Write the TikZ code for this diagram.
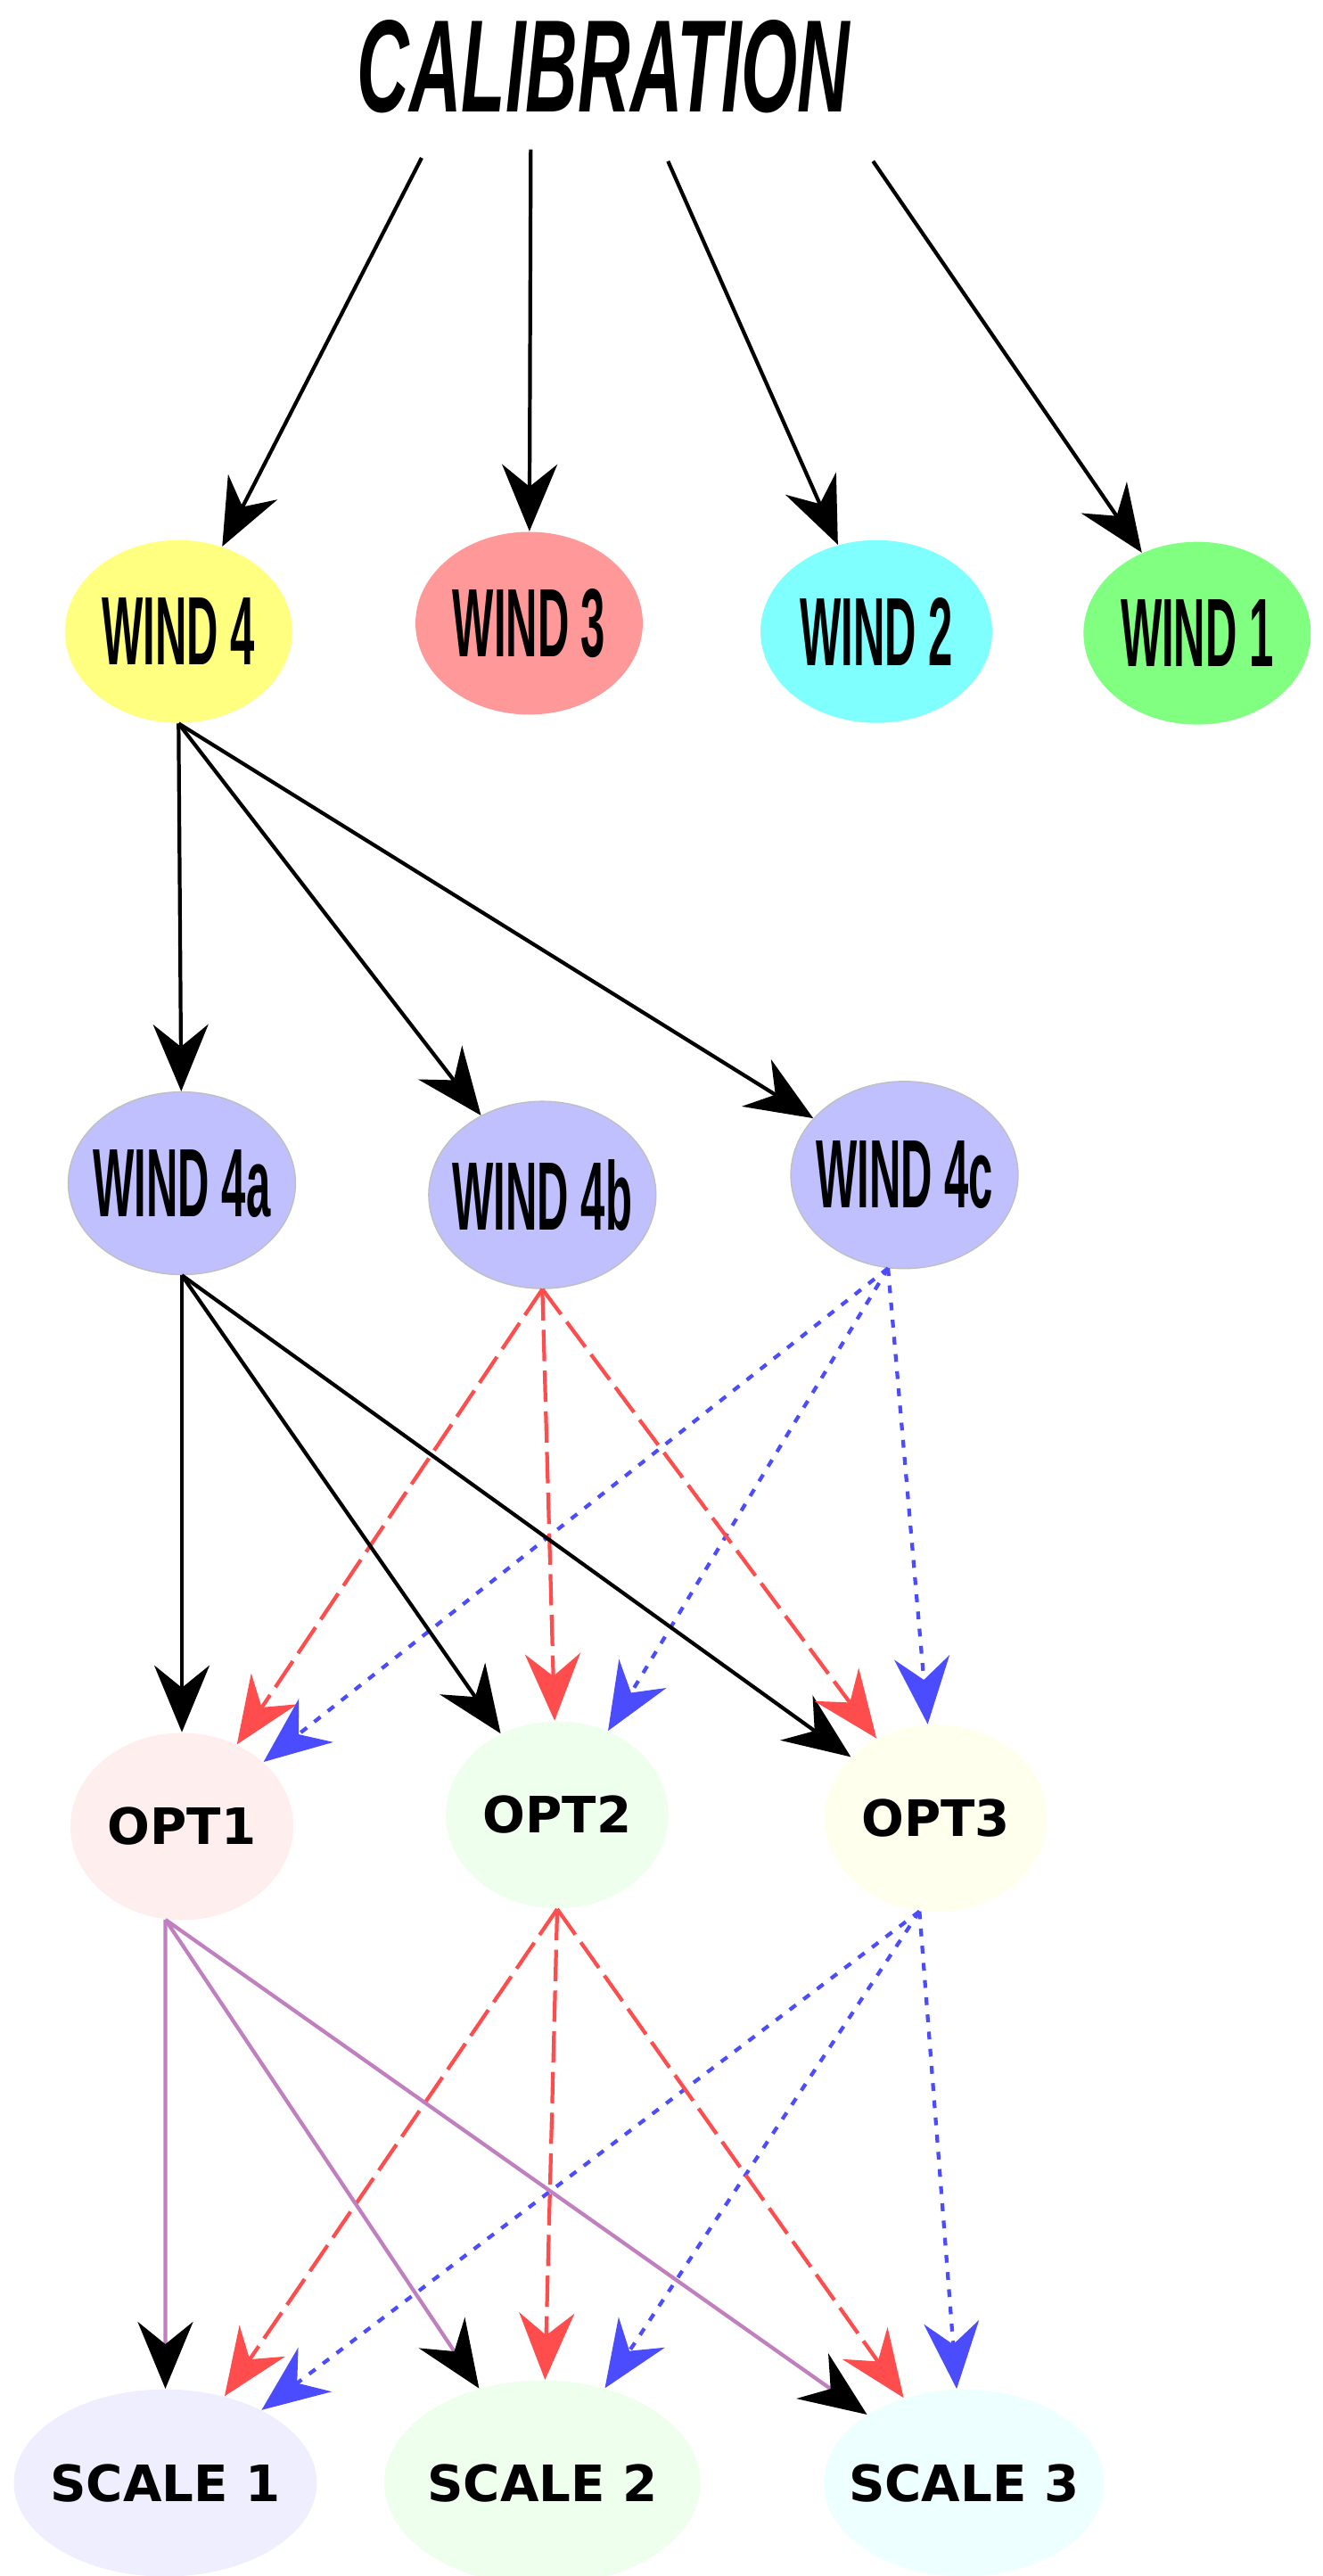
\documentclass[tikz,border=0pt]{standalone}
\usepackage{fontspec}
\setmainfont{DejaVu Sans}
\newfontfamily\windfont{Liberation Sans}
\usetikzlibrary{arrows.meta,shapes.geometric}
\definecolor{wyel}{HTML}{FFFF80}
\definecolor{wred}{HTML}{FF9999}
\definecolor{wcya}{HTML}{80FFFF}
\definecolor{wgrn}{HTML}{80FF80}
\definecolor{wsub}{HTML}{C0C0FF}
\definecolor{opta}{HTML}{FFEEEE}
\definecolor{optb}{HTML}{EEFFEE}
\definecolor{optc}{HTML}{FFFFEE}
\definecolor{scla}{HTML}{EEEEFF}
\definecolor{sclb}{HTML}{EEFFEE}
\definecolor{sclc}{HTML}{EEFFFF}
\definecolor{purp}{HTML}{C080C0}
\newcommand{\wl}[1]{\makebox[0pt]{\scalebox{0.45}[1]{\windfont\bfseries\fontsize{31}{31}\selectfont #1}}}
\newcommand{\ol}[1]{\makebox[0pt]{#1}}
\tikzset{
  wind/.style={ellipse, minimum width=2.55cm, minimum height=2.05cm, inner sep=0pt},
  opt/.style={ellipse, minimum width=2.5cm, minimum height=2.1cm, inner sep=0pt,
    font=\bfseries\fontsize{16}{16}\selectfont},
  big/.style={-{Stealth[length=0.75cm,width=0.62cm,inset=0.25cm]}, line width=1.2pt},
  rdash/.style={big, red!70, dash pattern=on 10pt off 3pt},
  bdot/.style={big, blue!70, dash pattern=on 2.5pt off 3pt},
  plink/.style={-{Stealth[length=0.75cm,width=0.62cm,inset=0.25cm,black]}, line width=1.2pt, purp}
}
\begin{document}
\begin{tikzpicture}[x=0.01856cm, y=-0.01864cm]
    \useasboundingbox (0,0) rectangle (800,1550);

    \node (cal) at (365,40) {\scalebox{0.55}[1]{\windfont\bfseries\itshape\fontsize{42}{42}\selectfont CALIBRATION}};
    \coordinate (c1) at (255,95);
    \coordinate (c2) at (321,90);
    \coordinate (c3) at (404,97);
    \coordinate (c4) at (528,97);

    \node[wind, fill=wyel] (w4) at (108,380) {\wl{WIND 4}};
    \node[wind, fill=wred] (w3) at (320,375) {\wl{WIND 3}};
    \node[wind, fill=wcya, minimum width=2.6cm] (w2) at (530,380) {\wl{WIND 2}};
    \node[wind, fill=wgrn] (w1) at (724,381) {\wl{WIND 1}};

    \draw[big] (c1) -- (w4);
    \draw[big] (c2) -- (w3);
    \draw[big] (c3) -- (w2);
    \draw[big] (c4) -- (w1);

    \node[wind, fill=wsub, draw=gray!50] (w4a) at (110,712) {\wl{WIND 4a}};
    \node[wind, fill=wsub, draw=gray!50, minimum height=2.1cm] (w4b) at (328,719) {\wl{WIND 4b}};
    \node[wind, fill=wsub, draw=gray!50, minimum height=2.1cm] (w4c) at (547,707) {\wl{WIND 4c}};

    \foreach \t in {w4a,w4b,w4c} {
      \draw[big] (w4.south) -- (\t);
    }

    \node[opt, fill=opta] (o1) at (110,1099) {\ol{OPT1}};
    \node[opt, fill=optb] (o2) at (337,1092) {\ol{OPT2}};
    \node[opt, fill=optc] (o3) at (566,1094) {\ol{OPT3}};

    % links from the sub-windows
    \foreach \t in {o1,o2,o3} {
      \draw[big] (w4a.south) -- (\t);
      \draw[rdash] (w4b.south) -- (\t);
      \draw[bdot] (w4c.-100) -- (\t);
    }

    \node[opt, fill=scla, minimum width=3.4cm] (s1) at (100,1494) {\ol{SCALE 1}};
    \node[opt, fill=sclb, minimum width=3.55cm, minimum height=2.3cm] (s2) at (328,1494) {\ol{SCALE 2}};
    \node[opt, fill=sclc, minimum width=3.15cm] (s3) at (583,1494) {\ol{SCALE 3}};

    % links to the scales
    \foreach \t in {s1,s2,s3} {
      \draw[plink] (o1.-100) -- (\t);
      \draw[rdash] (o2.south) -- (\t);
      \draw[bdot] (o3.-100) -- (\t);
    }

  \end{tikzpicture}
\end{document}
